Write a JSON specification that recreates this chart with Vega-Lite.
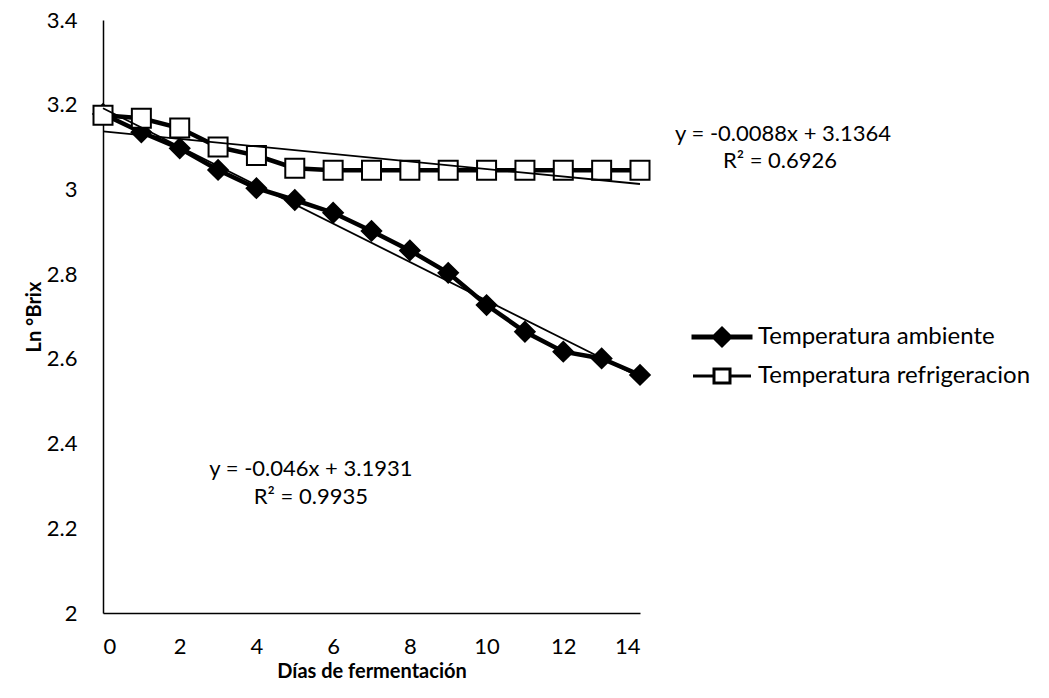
{
  "$schema": "https://vega.github.io/schema/vega-lite/v6.json",
  "autosize": "none",
  "padding": {"left": 103, "top": 20, "right": 409, "bottom": 85},
  "width": 537,
  "height": 593,
  "background": "white",
  "config": {
    "view": {"stroke": null},
    "font": "Lato",
    "axis": {
      "domainColor": "black", "domainWidth": 1.5, "ticks": false, "grid": false,
      "labelColor": "black", "labelFont": "Lato", "labelFontSize": 22,
      "titleColor": "black", "titleFont": "Lato", "titleFontWeight": "bold", "titleFontSize": 20
    }
  },
  "datasets": {
    "brix": [
      {"dia": 0, "lnbrix": 3.178, "serie": "Temperatura ambiente"},
      {"dia": 1, "lnbrix": 3.135, "serie": "Temperatura ambiente"},
      {"dia": 2, "lnbrix": 3.097, "serie": "Temperatura ambiente"},
      {"dia": 3, "lnbrix": 3.046, "serie": "Temperatura ambiente"},
      {"dia": 4, "lnbrix": 3.003, "serie": "Temperatura ambiente"},
      {"dia": 5, "lnbrix": 2.975, "serie": "Temperatura ambiente"},
      {"dia": 6, "lnbrix": 2.945, "serie": "Temperatura ambiente"},
      {"dia": 7, "lnbrix": 2.902, "serie": "Temperatura ambiente"},
      {"dia": 8, "lnbrix": 2.856, "serie": "Temperatura ambiente"},
      {"dia": 9, "lnbrix": 2.803, "serie": "Temperatura ambiente"},
      {"dia": 10, "lnbrix": 2.727, "serie": "Temperatura ambiente"},
      {"dia": 11, "lnbrix": 2.664, "serie": "Temperatura ambiente"},
      {"dia": 12, "lnbrix": 2.617, "serie": "Temperatura ambiente"},
      {"dia": 13, "lnbrix": 2.601, "serie": "Temperatura ambiente"},
      {"dia": 14, "lnbrix": 2.562, "serie": "Temperatura ambiente"},
      {"dia": 0, "lnbrix": 3.175, "serie": "Temperatura refrigeracion"},
      {"dia": 1, "lnbrix": 3.168, "serie": "Temperatura refrigeracion"},
      {"dia": 2, "lnbrix": 3.145, "serie": "Temperatura refrigeracion"},
      {"dia": 3, "lnbrix": 3.1, "serie": "Temperatura refrigeracion"},
      {"dia": 4, "lnbrix": 3.08, "serie": "Temperatura refrigeracion"},
      {"dia": 5, "lnbrix": 3.05, "serie": "Temperatura refrigeracion"},
      {"dia": 6, "lnbrix": 3.045, "serie": "Temperatura refrigeracion"},
      {"dia": 7, "lnbrix": 3.045, "serie": "Temperatura refrigeracion"},
      {"dia": 8, "lnbrix": 3.045, "serie": "Temperatura refrigeracion"},
      {"dia": 9, "lnbrix": 3.045, "serie": "Temperatura refrigeracion"},
      {"dia": 10, "lnbrix": 3.045, "serie": "Temperatura refrigeracion"},
      {"dia": 11, "lnbrix": 3.045, "serie": "Temperatura refrigeracion"},
      {"dia": 12, "lnbrix": 3.045, "serie": "Temperatura refrigeracion"},
      {"dia": 13, "lnbrix": 3.045, "serie": "Temperatura refrigeracion"},
      {"dia": 14, "lnbrix": 3.045, "serie": "Temperatura refrigeracion"}
    ],
    "eqs": [
      {"dia": 17.73, "lnbrix": 3.13, "txt": "y = -0.0088x + 3.1364"},
      {"dia": 17.65, "lnbrix": 3.066, "txt": "R² = 0.6926"},
      {"dia": 5.42, "lnbrix": 2.34, "txt": "y = -0.046x + 3.1931"},
      {"dia": 5.42, "lnbrix": 2.274, "txt": "R² = 0.9935"}
    ]
  },
  "layer": [
    {
      "data": {"name": "brix"},
      "mark": {"type": "line", "color": "black", "strokeWidth": 4.5},
      "encoding": {
        "x": {"field": "dia", "type": "quantitative", "scale": {"domain": [0, 14], "nice": false},
              "axis": {"values": [0, 2, 4, 6, 8, 10, 12, 14], "title": "Días de fermentación", "labelPadding": 23, "titlePadding": 4}},
        "y": {"field": "lnbrix", "type": "quantitative", "scale": {"domain": [2, 3.4], "nice": false, "zero": false},
              "axis": {"values": [2, 2.2, 2.4, 2.6, 2.8, 3, 3.2, 3.4], "format": "~g", "title": "Ln °Brix", "labelPadding": 26, "titlePadding": 2}},
        "detail": {"field": "serie", "type": "nominal"}
      }
    },
    {
      "data": {"name": "brix"},
      "transform": [{"filter": "datum.serie === 'Temperatura ambiente'"}],
      "mark": {"type": "point", "shape": "diamond", "filled": true, "fill": "black", "stroke": "black", "strokeWidth": 2, "opacity": 1, "size": 380},
      "encoding": {
        "x": {"field": "dia", "type": "quantitative"},
        "y": {"field": "lnbrix", "type": "quantitative"}
      }
    },
    {
      "data": {"name": "brix"},
      "transform": [{"filter": "datum.serie === 'Temperatura refrigeracion'"}],
      "mark": {"type": "point", "shape": "square", "filled": true, "fill": "white", "stroke": "black", "strokeWidth": 2, "opacity": 1, "size": 361},
      "encoding": {
        "x": {"field": "dia", "type": "quantitative"},
        "y": {"field": "lnbrix", "type": "quantitative"}
      }
    },
    {
      "data": {"name": "brix"},
      "transform": [{"filter": "false"}],
      "mark": {"type": "point", "filled": true, "strokeWidth": 3, "opacity": 1},
      "encoding": {
        "x": {"field": "dia", "type": "quantitative"},
        "y": {"field": "lnbrix", "type": "quantitative"},
        "shape": {"field": "serie", "type": "nominal",
                  "scale": {"domain": ["Temperatura ambiente", "Temperatura refrigeracion"],
                            "range": ["M-2.9,-0.1H-0.8L0,-0.9L0.8,-0.1H2.9V0.1H0.8L0,0.9L-0.8,0.1H-2.9Z", "M-2.9,0H-0.8M0.8,0H2.9M-0.8,-0.7H0.8V0.7H-0.8Z"]},
                  "legend": {
                    "title": null, "orient": "none", "legendX": 607, "legendY": 305,
                    "padding": 0, "symbolSize": 400, "symbolStrokeWidth": 3, "symbolOpacity": 1,
                    "labelFont": "Lato", "labelFontSize": 24, "labelColor": "black",
                    "labelOffset": 24, "rowPadding": 11, "labelLimit": 400
                  }},
        "fill": {"field": "serie", "type": "nominal",
                 "scale": {"domain": ["Temperatura ambiente", "Temperatura refrigeracion"], "range": ["black", "white"]}},
        "stroke": {"field": "serie", "type": "nominal",
                 "scale": {"domain": ["Temperatura ambiente", "Temperatura refrigeracion"], "range": ["black", "black"]}}
      }
    },
    {
      "data": {"name": "brix"},
      "transform": [{"regression": "lnbrix", "on": "dia", "groupby": ["serie"], "extent": [0, 14]}],
      "mark": {"type": "line", "color": "black", "strokeWidth": 1.8},
      "encoding": {
        "x": {"field": "dia", "type": "quantitative"},
        "y": {"field": "lnbrix", "type": "quantitative"},
        "detail": {"field": "serie", "type": "nominal"}
      }
    },
    {
      "data": {"name": "eqs"},
      "mark": {"type": "text", "font": "Lato", "fontSize": 22, "color": "black", "align": "center", "baseline": "middle"},
      "encoding": {
        "x": {"field": "dia", "type": "quantitative"},
        "y": {"field": "lnbrix", "type": "quantitative"},
        "text": {"field": "txt"}
      }
    }
  ]
}
